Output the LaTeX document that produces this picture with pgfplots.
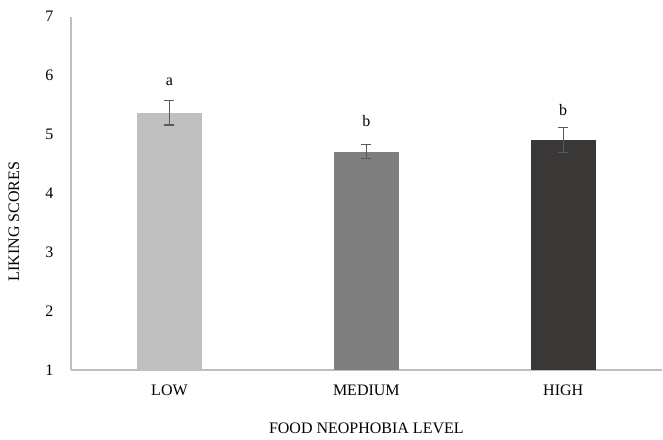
\documentclass[border=0pt]{standalone}
\usepackage{fontspec}
\setmainfont{Liberation Serif}
\usepackage{pgfplots}
\pgfplotsset{compat=1.18}

\definecolor{barlow}{HTML}{BFBFBF}
\definecolor{barmed}{HTML}{7F7F7F}
\definecolor{barhigh}{HTML}{3A3836}
\definecolor{axisgray}{HTML}{BFBFBF}
\definecolor{errgray}{HTML}{595959}

\begin{document}
\fontsize{12}{14}\selectfont
\begin{tikzpicture}
\path[use as bounding box] (-53.25pt,-51.75pt) rectangle (444pt,277.5pt);
\begin{axis}[
  at={(0,0)}, anchor=south west,
  scale only axis, width=443pt, height=265pt,
  ybar, bar width=49pt, bar shift=0pt,
  xmin=-0.5, xmax=2.5, ymin=1, ymax=7,
  xtick={0,1,2}, xticklabels={LOW,MEDIUM,HIGH},
  ytick={1,2,3,4,5,6,7},
  axis x line*=bottom, axis y line*=left,
  axis line style={draw=axisgray, line width=0.9pt, -},
  major tick length=0pt,
  /pgf/number format/assume math mode=true,
  tick label style={font=\fontsize{12}{14}\selectfont},
  xticklabel style={yshift=-7pt},
  yticklabel style={xshift=-9pt},
  xlabel={FOOD NEOPHOBIA LEVEL},
  ylabel={LIKING SCORES},
  every axis x label/.style={at={(axis description cs:0.5,0)}, anchor=center, yshift=-43.5pt},
  every axis y label/.style={at={(axis description cs:0,0.42)}, rotate=90, anchor=center, yshift=42.75pt},
  error bars/y dir=both, error bars/y explicit,
  error bars/error bar style={draw=errgray, line width=0.8pt},
  error bars/error mark options={draw=errgray, line width=0.8pt, mark size=3.75pt, rotate=90},
]
\addplot[fill=barlow, draw=none] coordinates {(0,5.37) +- (0,0.21)};
\addplot[fill=barmed, draw=none] coordinates {(1,4.71) +- (0,0.12)};
\addplot[fill=barhigh, draw=none] coordinates {(2,4.91) +- (0,0.21)};
% significance letters
\addplot[draw=none, fill=none, error bars/y dir=none,
  nodes near coords, point meta=explicit symbolic,
  every node near coord/.style={anchor=center, font=\fontsize{12}{14}\selectfont}]
  coordinates {(0,5.90) [a] (1,5.22) [b] (2,5.42) [b]};
\end{axis}
\end{tikzpicture}
\end{document}
